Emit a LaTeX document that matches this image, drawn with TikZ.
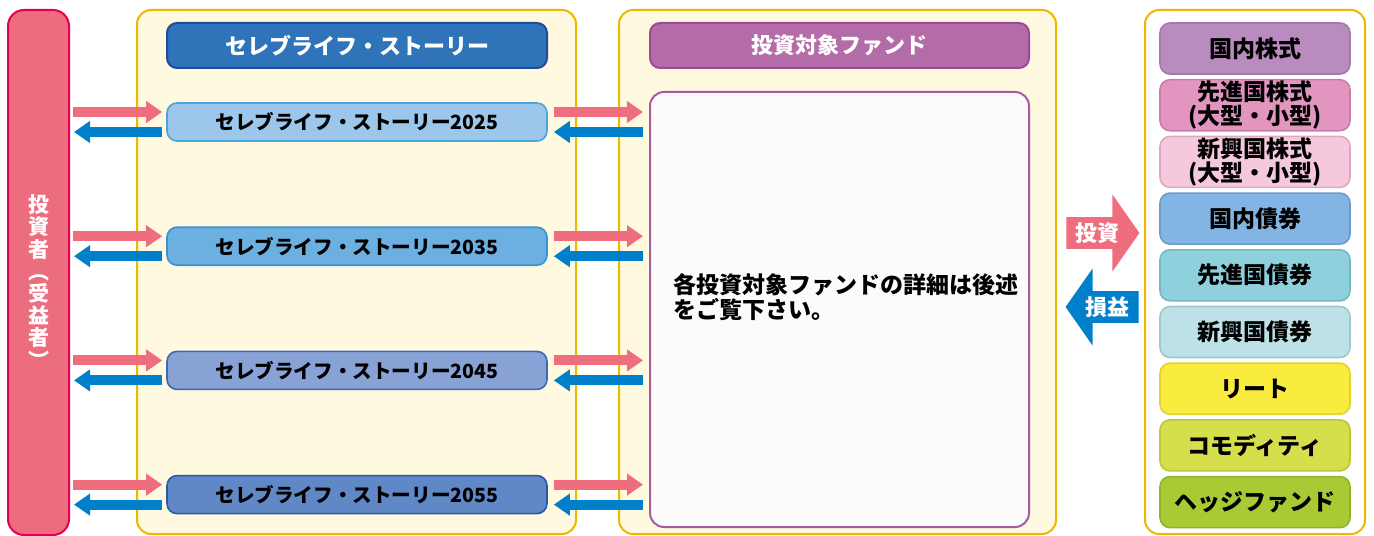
\documentclass[tikz,border=0pt]{standalone}
\usepackage{fontspec}
\setmainfont{Noto Sans CJK JP}
\usepackage{tikz}
\usetikzlibrary{shapes,arrows.meta,positioning,calc}

\definecolor{invpink}{RGB}{236,110,126}
\definecolor{invedge}{RGB}{228,0,80}
\definecolor{cream}{RGB}{255,249,224}
\definecolor{gold}{RGB}{238,184,0}
\definecolor{hdrblue}{RGB}{47,115,185}
\definecolor{hdrblueedge}{RGB}{30,76,154}
\definecolor{hdrpurple}{RGB}{179,108,168}
\definecolor{hdrpurpleedge}{RGB}{155,75,148}
\definecolor{notefill}{RGB}{253,250,252}
\definecolor{noteedge}{RGB}{166,91,162}
\definecolor{fundA}{RGB}{157,199,234}
\definecolor{fundAedge}{RGB}{72,165,222}
\definecolor{fundB}{RGB}{108,176,226}
\definecolor{fundBedge}{RGB}{58,144,208}
\definecolor{fundC}{RGB}{137,162,214}
\definecolor{fundCedge}{RGB}{58,105,180}
\definecolor{fundD}{RGB}{96,136,198}
\definecolor{fundDedge}{RGB}{38,89,168}
\definecolor{arrpink}{RGB}{238,110,126}
\definecolor{arrblue}{RGB}{0,128,203}
\definecolor{dstockcol}{RGB}{185,139,191}
\definecolor{dstockedge}{RGB}{162,122,171}
\definecolor{astockcol}{RGB}{225,149,191}
\definecolor{astockedge}{RGB}{201,126,170}
\definecolor{estockcol}{RGB}{245,200,221}
\definecolor{estockedge}{RGB}{221,169,194}
\definecolor{dbondcol}{RGB}{130,181,227}
\definecolor{dbondedge}{RGB}{106,157,201}
\definecolor{abondcol}{RGB}{142,209,221}
\definecolor{abondedge}{RGB}{118,185,197}
\definecolor{ebondcol}{RGB}{188,226,232}
\definecolor{ebondedge}{RGB}{160,200,206}
\definecolor{reitcol}{RGB}{249,236,62}
\definecolor{reitedge}{RGB}{224,210,47}
\definecolor{commcol}{RGB}{212,223,75}
\definecolor{commedge}{RGB}{189,198,61}
\definecolor{hedgecol}{RGB}{168,203,53}
\definecolor{hedgeedge}{RGB}{146,178,42}

\begin{document}
\begin{tikzpicture}[
    x=0.5pt, y=-0.5pt,
    node distance=2.05pt,
    container/.style={rectangle, rounded corners=7pt, draw=gold, line width=1pt, minimum height=262pt},
    header/.style={rectangle, rounded corners=5pt, line width=1pt, minimum width=190pt, minimum height=22.5pt, text=white, font=\bfseries\fontsize{11pt}{13pt}\selectfont},
    fundbox/.style={rectangle, rounded corners=5pt, line width=0.8pt, minimum width=190pt, minimum height=19pt, font=\bfseries\fontsize{9.8pt}{12pt}\selectfont},
    assetbox/.style={rectangle, rounded corners=5pt, line width=0.8pt, minimum width=95pt, minimum height=25.5pt, inner sep=0pt, align=center, font=\bfseries\fontsize{11.5pt}{10.5pt}\selectfont},
    inarr/.style={draw=arrpink, line width=5pt, -{Triangle[length=8pt,width=10.5pt]}},
    outarr/.style={draw=arrblue, line width=5pt, -{Triangle[length=8pt,width=10.5pt]}},
    bigarr/.style={single arrow, single arrow head extend=9.25pt, single arrow tip angle=110, minimum width=38.5pt, minimum height=36.5pt, inner sep=1pt, text=white, font=\bfseries\fontsize{11pt}{13pt}\selectfont}
]
    \useasboundingbox (0,0) rectangle (1374,535);

    % frames
    \node[container, fill=cream, minimum width=219.5pt] (storyarea) at (356.5,272) {};
    \node[container, fill=cream, minimum width=218.5pt] (fundarea) at (837.5,272) {};
    \node[container, fill=white, minimum width=110pt] (assetarea) at (1255,272) {};

    % investor
    \node[rectangle, rounded corners=8pt, draw=invedge, fill=invpink, line width=1pt, minimum width=30.5pt, minimum height=262.5pt] (investor) at (38.5,272.5) {};
    \node[text=white, align=center, font=\bfseries\fontsize{10.5pt}{11.1pt}\selectfont] (investorlabel) at ([yshift=-4.5pt]investor.center) {投\\資\\者\\︵\\受\\益\\者\\︶};

    % funds
    \node[header, fill=hdrblue, draw=hdrblueedge] (storyhdr) at (357,45.5) {セレブライフ・ストーリー};
    \node[fundbox, fill=fundA, draw=fundAedge] (f25) at (357,122) {セレブライフ・ストーリー2025};
    \node[fundbox, fill=fundB, draw=fundBedge, below=42.3pt of f25] (f35) {セレブライフ・ストーリー2035};
    \node[fundbox, fill=fundC, draw=fundCedge, below=42.3pt of f35] (f45) {セレブライフ・ストーリー2045};
    \node[fundbox, fill=fundD, draw=fundDedge, below=42.3pt of f45] (f55) {セレブライフ・ストーリー2055};

    \node[header, fill=hdrpurple, draw=hdrpurpleedge, minimum width=189.5pt] (fundhdr) at (839.5,45.5) {投資対象ファンド};
    \node[rectangle, rounded corners=7pt, draw=noteedge, fill=notefill, line width=1pt, minimum width=189.5pt, minimum height=217.5pt] (notebox) at (839.5,309.5) {};
    \node[anchor=west, align=left, font=\bfseries\fontsize{11.5pt}{12.5pt}\selectfont] (notetext) at (666,297.5) {各投資対象ファンドの詳細は後述\\をご覧下さい。};

    % assets
    \node[assetbox, fill=dstockcol, draw=dstockedge] (dstock) at (1255,48.5) {国内株式};
    \node[assetbox, fill=astockcol, draw=astockedge, below=of dstock] (astock) {先進国株式\\(大型・小型)};
    \node[assetbox, fill=estockcol, draw=estockedge, below=of astock] (estock) {新興国株式\\(大型・小型)};
    \node[assetbox, fill=dbondcol, draw=dbondedge, below=of estock] (dbond) {国内債券};
    \node[assetbox, fill=abondcol, draw=abondedge, below=of dbond] (abond) {先進国債券};
    \node[assetbox, fill=ebondcol, draw=ebondedge, below=of abond] (ebond) {新興国債券};
    \node[assetbox, fill=reitcol, draw=reitedge, below=of ebond] (reit) {リート};
    \node[assetbox, fill=commcol, draw=commedge, below=of reit] (comm) {コモディティ};
    \node[assetbox, fill=hedgecol, draw=hedgeedge, below=of comm] (hedge) {ヘッジファンド};

    \node[bigarr, fill=arrpink, anchor=tail] (invest) at (1066,233) {投資};
    \node[bigarr, fill=arrblue, shape border rotate=180, anchor=tail] (gain) at (1139,307) {損益};

    % arrows
    \draw[inarr] ($(investor.east |- f25.west)+(1.5pt,5pt)$) -- ($(f25.west)+(-2pt,5pt)$);
    \draw[outarr] ($(f25.west)+(-2pt,-5pt)$) -- ($(investor.east |- f25.west)+(2pt,-5pt)$);
    \draw[inarr] ($(investor.east |- f35.west)+(1.5pt,5pt)$) -- ($(f35.west)+(-2pt,5pt)$);
    \draw[outarr] ($(f35.west)+(-2pt,-5pt)$) -- ($(investor.east |- f35.west)+(2pt,-5pt)$);
    \draw[inarr] ($(investor.east |- f45.west)+(1.5pt,5pt)$) -- ($(f45.west)+(-2pt,5pt)$);
    \draw[outarr] ($(f45.west)+(-2pt,-5pt)$) -- ($(investor.east |- f45.west)+(2pt,-5pt)$);
    \draw[inarr] ($(investor.east |- f55.west)+(1.5pt,5pt)$) -- ($(f55.west)+(-2pt,5pt)$);
    \draw[outarr] ($(f55.west)+(-2pt,-5pt)$) -- ($(investor.east |- f55.west)+(2pt,-5pt)$);

    \draw[inarr] ($(f25.east)+(3pt,5pt)$) -- ($(notebox.west |- f25.east)+(-3pt,5pt)$);
    \draw[outarr] ($(notebox.west |- f25.east)+(-3pt,-5pt)$) -- ($(f25.east)+(3pt,-5pt)$);
    \draw[inarr] ($(f35.east)+(3pt,5pt)$) -- ($(notebox.west |- f35.east)+(-3pt,5pt)$);
    \draw[outarr] ($(notebox.west |- f35.east)+(-3pt,-5pt)$) -- ($(f35.east)+(3pt,-5pt)$);
    \draw[inarr] ($(f45.east)+(3pt,5pt)$) -- ($(notebox.west |- f45.east)+(-3pt,5pt)$);
    \draw[outarr] ($(notebox.west |- f45.east)+(-3pt,-5pt)$) -- ($(f45.east)+(3pt,-5pt)$);
    \draw[inarr] ($(f55.east)+(3pt,5pt)$) -- ($(notebox.west |- f55.east)+(-3pt,5pt)$);
    \draw[outarr] ($(notebox.west |- f55.east)+(-3pt,-5pt)$) -- ($(f55.east)+(3pt,-5pt)$);
\end{tikzpicture}
\end{document}
